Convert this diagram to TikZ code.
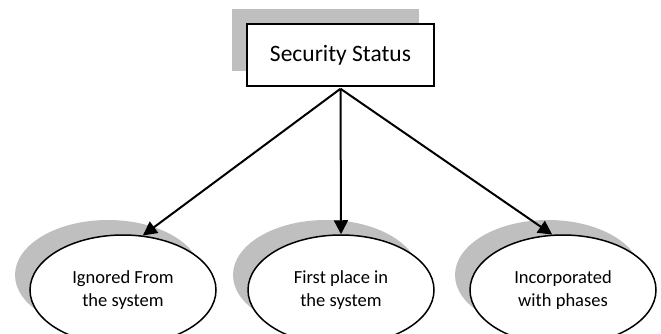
\documentclass[tikz,border=0pt]{standalone}
\usepackage{fontspec}
\setmainfont{Carlito}
\usetikzlibrary{shapes.geometric,shadows,arrows.meta}
\definecolor{shadowgray}{RGB}{191,191,191}
\begin{document}
\begin{tikzpicture}[x=1pt,y=-1pt,
  shd/.style={general shadow={shadow xshift=-15pt,shadow yshift=15pt,fill=shadowgray,opacity=1}},
  topbox/.style={draw,line width=1.5pt,fill=white,minimum width=187pt,minimum height=62pt,inner sep=0pt,shd,font=\fontsize{23.5}{28}\selectfont},
  oval/.style={ellipse,draw,line width=1.5pt,fill=white,minimum width=186pt,minimum height=110pt,inner sep=0pt,align=center,shd,font=\fontsize{18.5}{23.5}\selectfont},
  arr/.style={line width=2pt,-{Triangle[length=14pt,width=14pt]}}]
\useasboundingbox (0,0) rectangle (661,333);
\clip (0,0) rectangle (661,333);
\node[topbox] (top) at (340.5,55) {Security Status};
\node[oval] (e1) at (123,290) {Ignored From\\the system};
\node[oval] (e2) at (341,290) {First place in\\the system};
\node[oval] (e3) at (563,290) {Incorporated\\with phases};
\coordinate (src) at ([yshift=-2pt]top.south);
\draw[arr] (src) -- (e1.70);
\draw[arr] (src) -- (e2.north);
\draw[arr] (src) -- (e3.101);
\end{tikzpicture}
\end{document}
